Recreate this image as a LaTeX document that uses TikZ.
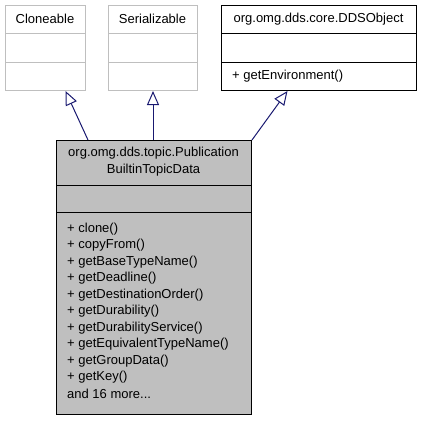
\documentclass[tikz,border=0pt]{standalone}
\usepackage{fontspec}
\setmainfont{Liberation Sans}
\usetikzlibrary{arrows.meta}
\definecolor{edgeblue}{HTML}{191970}
\definecolor{boxgray}{HTML}{BFBFBF}
\tikzset{
  classbox/.style={draw, line width=1pt, inner sep=0pt, anchor=north west},
  classtext/.style={inner sep=0pt, font=\fontsize{13}{16}\selectfont},
  membertext/.style={classtext, anchor=west},
  inherit/.style={edgeblue, line width=1pt, -{Triangle[open,length=14pt,width=12pt]}}
}
\begin{document}
\begin{tikzpicture}[x=1pt,y=-1pt]
\useasboundingbox (0,0) rectangle (421,421);
% base classes
\node[classbox, draw=boxgray, minimum width=80pt, minimum height=85pt] (clone) at (5,5) {};
\node[classbox, draw=boxgray, minimum width=89pt, minimum height=85pt] (serial) at (108,5) {};
\node[classbox, minimum width=195pt, minimum height=85pt] (dds) at (221,5) {};
% derived class
\node[classbox, fill=boxgray, minimum width=195pt, minimum height=274pt] (pub) at (56,140) {};

% compartments
\draw[boxgray, line width=1pt] ([yshift=-28pt]clone.north west) -- ([yshift=-28pt]clone.north east);
\draw[boxgray, line width=1pt] ([yshift=-57pt]clone.north west) -- ([yshift=-57pt]clone.north east);
\draw[boxgray, line width=1pt] ([yshift=-28pt]serial.north west) -- ([yshift=-28pt]serial.north east);
\draw[boxgray, line width=1pt] ([yshift=-57pt]serial.north west) -- ([yshift=-57pt]serial.north east);
\draw[line width=1pt] ([yshift=-28pt]dds.north west) -- ([yshift=-28pt]dds.north east);
\draw[line width=1pt] ([yshift=-57pt]dds.north west) -- ([yshift=-57pt]dds.north east);
\draw[line width=1pt] ([yshift=-45pt]pub.north west) -- ([yshift=-45pt]pub.north east);
\draw[line width=1pt] ([yshift=-72.5pt]pub.north west) -- ([yshift=-72.5pt]pub.north east);

% names
\node[classtext] (clonename) at (45,19) {Cloneable};
\node[classtext] (serialname) at (152.5,19) {Serializable};
\node[classtext] (ddsname) at (318.5,19) {org.omg.dds.core.DDSObject};
\node[classtext] (pubname1) at (153.5,153) {org.omg.dds.topic.Publication};
\node[classtext] (pubname2) at (153.5,170) {BuiltinTopicData};

% members
\node[membertext] (ddsenv) at (232,76) {+ getEnvironment()};
\node[membertext] (m1) at (67,229) {+ clone()};
\node[membertext] (m2) at (67,245.5) {+ copyFrom()};
\node[membertext] (m3) at (67,262) {+ getBaseTypeName()};
\node[membertext] (m4) at (67,278.5) {+ getDeadline()};
\node[membertext] (m5) at (67,295) {+ getDestinationOrder()};
\node[membertext] (m6) at (67,311.5) {+ getDurability()};
\node[membertext] (m7) at (67,328) {+ getDurabilityService()};
\node[membertext] (m8) at (67,344.5) {+ getEquivalentTypeName()};
\node[membertext] (m9) at (67,361) {+ getGroupData()};
\node[membertext] (m10) at (67,377.5) {+ getKey()};
\node[membertext] (more) at (67,394) {and 16 more...};

% generalization
\path[inherit]
([xshift=32pt]pub.north west) edge ([xshift=20pt]clone.south)
(pub.north -| serial.south) edge (serial.south)
(pub.north east) edge ([xshift=-31.5pt]dds.south);
\end{tikzpicture}
\end{document}
